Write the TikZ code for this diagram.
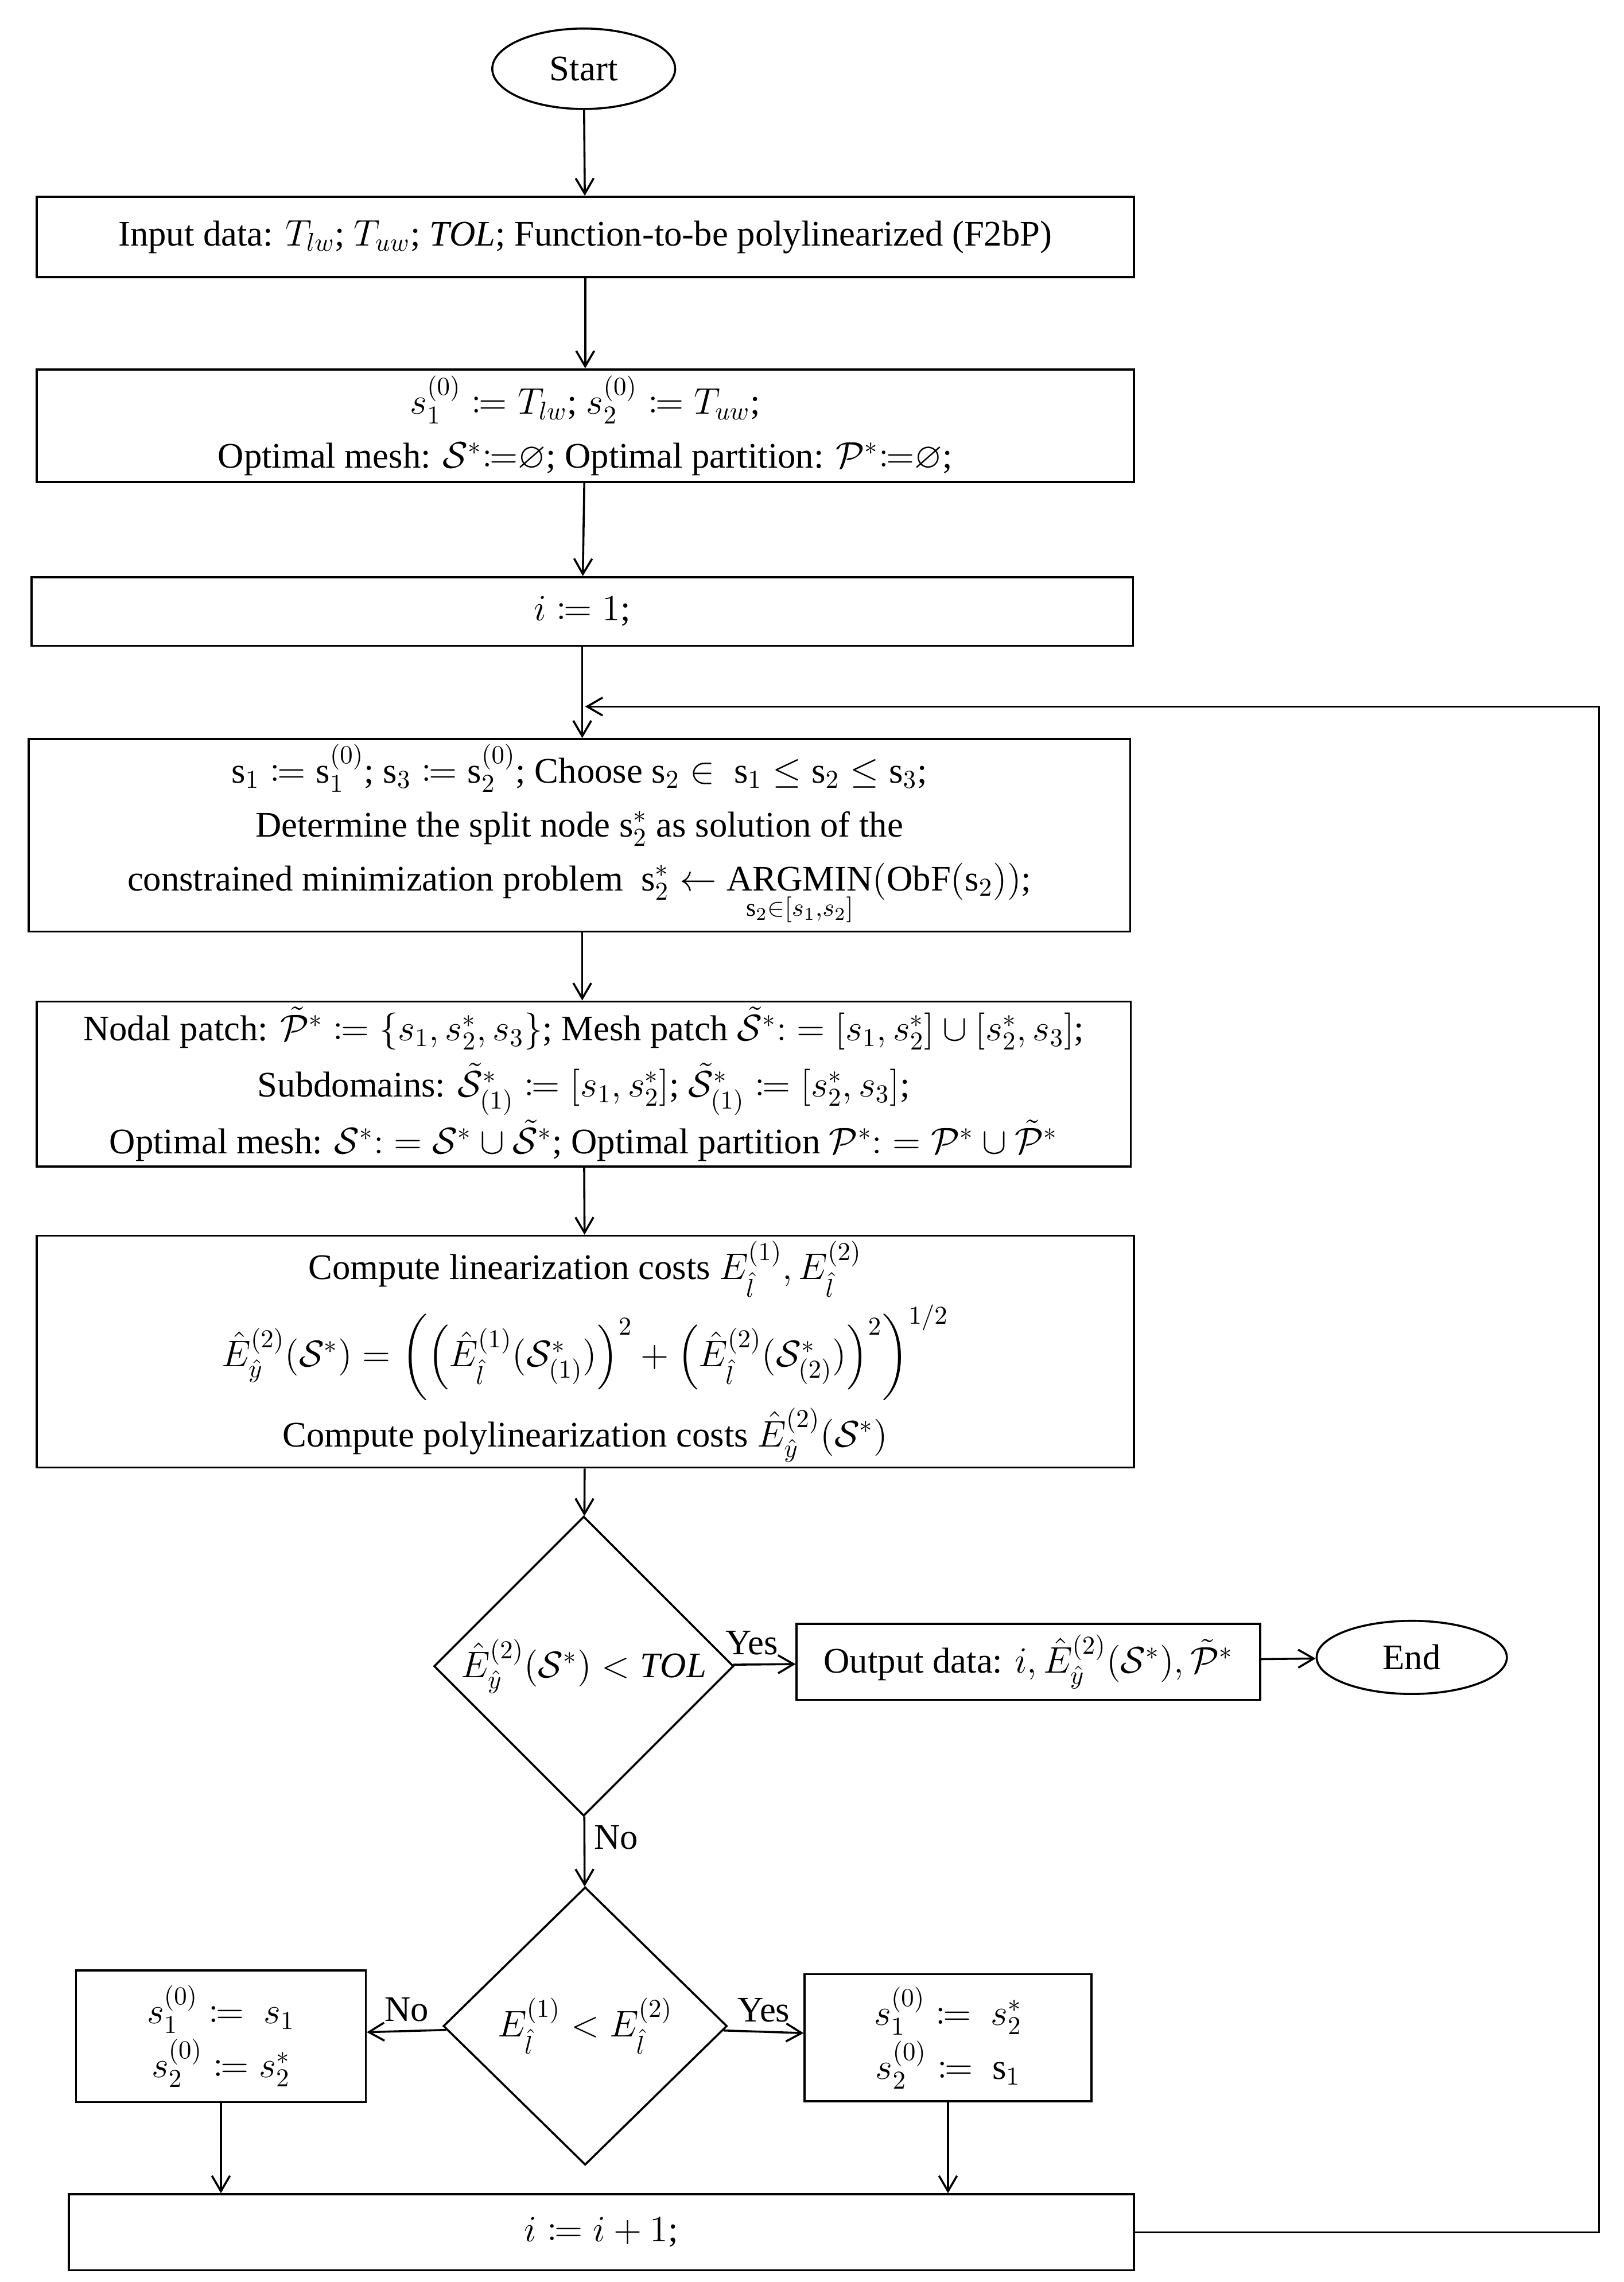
\documentclass[tikz,border=0pt]{standalone}
\usepackage{amsmath,amssymb,mathtools}
\usepackage{fontspec}
\setmainfont{Liberation Serif}
\usetikzlibrary{shapes.geometric,arrows.meta}
\begin{document}
\begin{tikzpicture}[x=0.02cm,y=-0.02cm,
box/.style={draw,thick,inner sep=2pt,align=center,font=\fontsize{14}{21}\selectfont},
term/.style={draw,thick,ellipse,inner sep=0pt,font=\fontsize{14}{17}\selectfont},
test/.style={draw,thick,diamond,inner sep=0pt,font=\fontsize{14}{17}\selectfont},
arr/.style={-{Straight Barb[length=6pt,width=7pt]},thick},
lbl/.style={font=\fontsize{14}{17}\selectfont},
]
\useasboundingbox (0,0) rectangle (1110,1560);
\node[term,minimum width=125*0.02cm,minimum height=55*0.02cm] (start) at (399,47) {Start};
\node[box,minimum width=750*0.02cm,minimum height=55*0.02cm] (input) at (400,162)
    {Input data: $T_{lw}$; $T_{uw}$; $\mathit{TOL}$; Function-to-be polylinearized (F2bP)};
\node[box,minimum width=750*0.02cm,minimum height=77*0.02cm] (init) at (400,291)
    {$s^{(0)}_1 \coloneqq T_{lw}$; $s^{(0)}_2 \coloneqq T_{uw}$;\\
     Optimal mesh: $\mathcal{S}^*{\coloneqq}\varnothing$; Optimal partition: $\mathcal{P}^*{\coloneqq}\varnothing$;};
\node[box,minimum width=753*0.02cm,minimum height=47*0.02cm] (iset) at (398,418) {$i \coloneqq 1$;};
\node[box,minimum width=753*0.02cm,minimum height=129*0.02cm] (split) at (396,571)
    {$\mathrm{s}_1 \coloneqq \mathrm{s}^{(0)}_1$; $\mathrm{s}_3 \coloneqq \mathrm{s}^{(0)}_2$; Choose $\mathrm{s}_2 \in\ \mathrm{s}_1 \le \mathrm{s}_2 \le \mathrm{s}_3$;\\
     Determine the split node $\mathrm{s}^*_2$ as solution of the\\
     constrained minimization problem \ $\mathrm{s}^*_2 \leftarrow \underset{\mathrm{s}_2\in[s_1,s_2]}{\mathrm{ARGMIN}}(\mathrm{ObF}(\mathrm{s}_2))$;};
\node[box,minimum width=748*0.02cm,minimum height=111*0.02cm] (patch) at (399,741)
    {Nodal patch: $\tilde{\mathcal{P}}^* \coloneqq \{s_1, s^*_2, s_3\}$; Mesh patch $\tilde{\mathcal{S}}^*{:}=[s_1, s^*_2]\cup[s^*_2,s_3]$;\\[1pt]
     Subdomains: $\tilde{\mathcal{S}}^*_{(1)} \coloneqq [s_1,s^*_2]$; $\tilde{\mathcal{S}}^*_{(1)} \coloneqq [s^*_2,s_3]$;\\[1pt]
     Optimal mesh: $\mathcal{S}^*{:}=\mathcal{S}^*\cup\tilde{\mathcal{S}}^*$; Optimal partition $\mathcal{P}^*{:}=\mathcal{P}^*\cup\tilde{\mathcal{P}}^*$};
\node[box,minimum width=750*0.02cm,minimum height=156*0.02cm] (cost) at (400,924)
    {Compute linearization costs $E^{(1)}_{\hat{l}}, E^{(2)}_{\hat{l}}$\\[2pt]
     $\hat{E}^{(2)}_{\hat{y}}(\mathcal{S}^*) = \left(\left(\hat{E}^{(1)}_{\hat{l}}(\mathcal{S}^*_{(1)})\right)^2 + \left(\hat{E}^{(2)}_{\hat{l}}(\mathcal{S}^*_{(2)})\right)^2\right)^{1/2}$\\[2pt]
     Compute polylinearization costs $\hat{E}^{(2)}_{\hat{y}}(\mathcal{S}^*)$};
\node[test,minimum width=200*0.02cm,minimum height=202*0.02cm] (tol) at (399,1139)
    {$\hat{E}^{(2)}_{\hat{y}}(\mathcal{S}^*) < \mathit{TOL}$};
\node[box,minimum width=317*0.02cm,minimum height=52*0.02cm] (output) at (703,1136)
    {Output data: $i, \hat{E}^{(2)}_{\hat{y}}(\mathcal{S}^*), \tilde{\mathcal{P}}^*$};
\node[term,minimum width=130*0.02cm,minimum height=50*0.02cm] (end) at (965,1133) {End};
\node[test,minimum width=194*0.02cm,minimum height=190*0.02cm] (cmp) at (400,1385)
    {$E^{(1)}_{\hat{l}} < E^{(2)}_{\hat{l}}$};
\node[box,minimum width=198*0.02cm,minimum height=90*0.02cm] (left) at (151,1392)
    {$s^{(0)}_1 \coloneqq\ s_1$\\ $s^{(0)}_2 \coloneqq s^*_2$};
\node[box,minimum width=196*0.02cm,minimum height=87*0.02cm] (right) at (648,1393)
    {$s^{(0)}_1 \coloneqq\ s^*_2$\\ $s^{(0)}_2 \coloneqq\ \mathrm{s}_1$};
\node[box,minimum width=728*0.02cm,minimum height=52*0.02cm] (inc) at (411,1526) {$i \coloneqq i+1$;};
\coordinate (loop) at (400,483);
% connectors
\draw[arr] (start) -- (input);
\draw[arr] (input) -- (init);
\draw[arr] (init) -- (iset);
\draw[arr] (iset.south) -- (split.north -| iset.south);
\draw[arr] (split.south -| iset.south) -- (patch.north -| iset.south);
\draw[arr] (patch) -- (cost);
\draw[arr] (cost) -- (tol);
\draw[arr] (tol) -- node[lbl,above,pos=0.3]{Yes} (output);
\draw[arr] (output) -- (end);
\draw[arr] (tol) -- node[lbl,right,pos=0.3]{No} (cmp);
\draw[arr] (cmp) -- node[lbl,above]{No} (left);
\draw[arr] (cmp) -- node[lbl,above]{Yes} (right);
\draw[arr] (left) -- (left |- inc.north);
\draw[arr] (right) -- (right |- inc.north);
\draw[arr] (inc.east) -| (1093,483) -- (loop);
\end{tikzpicture}
\end{document}
